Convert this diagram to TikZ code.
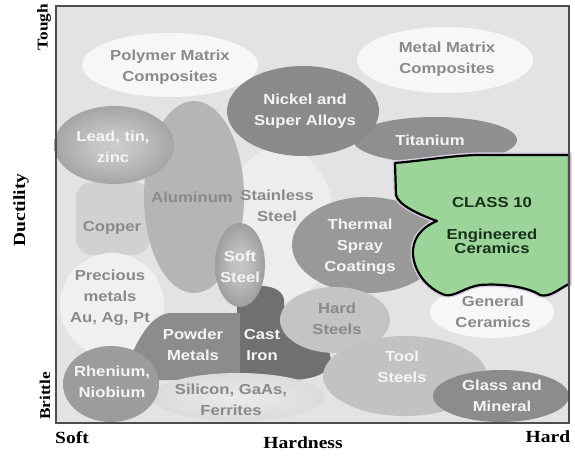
\documentclass[tikz,border=0pt]{standalone}
\usepackage{fontspec}
\setmainfont{Liberation Serif}
\newfontfamily\blobfont{Liberation Sans}[FakeStretch=1.15]
\newfontfamily\axisfont{Liberation Serif}[FakeStretch=1.15]
\definecolor{panelgray}{HTML}{E3E3E3}
\definecolor{framegray}{HTML}{4D4D4D}
\definecolor{txtgray}{HTML}{8A8A8A}
\definecolor{txtwhite}{HTML}{F4F4F4}
\definecolor{ceramicgreen}{HTML}{9CD49A}
\definecolor{ceramictext}{HTML}{17301A}
\definecolor{ceramichalo}{HTML}{D8CCE0}
\pgfdeclareradialshading{leadshade}{\pgfpointorigin}{color(0bp)=(black!20);color(10bp)=(black!24);color(50bp)=(black!54)}
\pgfdeclareradialshading{softshade}{\pgfpointorigin}{color(0bp)=(black!22);color(10bp)=(black!26);color(50bp)=(black!58)}
\pgfdeclareradialshading{siliconshade}{\pgfpointorigin}{color(0bp)=(black!8);color(25bp)=(black!14);color(50bp)=(black!45)}

\begin{document}
\begin{tikzpicture}[x=1pt,y=-1pt,
  blob label/.style={font=\blobfont\bfseries\fontsize{14.5}{21}\selectfont,align=center,inner sep=0pt},
  gray label/.style={blob label,text=txtgray},
  white label/.style={blob label,text=txtwhite},
  axis label/.style={font=\axisfont\bfseries\fontsize{17}{20}\selectfont,inner sep=0pt}]
\useasboundingbox (0,0) rectangle (575,457);
\fill[panelgray] (56,6) rectangle (569,423);
% pale back regions
\fill[black!7] (280,225) ellipse [x radius=55, y radius=78];
\fill[black!18,rounded corners=16] (76,182) rectangle (150,255);
\fill[black!6] (112,305) ellipse [x radius=52, y radius=52];
\fill[black!29] (194,197) ellipse [x radius=50, y radius=96];
\fill[white!97!black] (170,65) ellipse [x radius=88, y radius=32];
\fill[white!97!black] (445,60) ellipse [x radius=88, y radius=33];
\shade[shading=leadshade] (114,145) ellipse [x radius=60, y radius=39];
\fill[black!44] (435,140) ellipse [x radius=82, y radius=23];
\fill[black!46] (303,111) ellipse [x radius=76, y radius=45];
\fill[black!40] (367,245) ellipse [x radius=75, y radius=48];
% cast iron and powder metals
\fill[black!56] (237,378) -- (237,298) .. controls (237,283) and (282,280) .. (284,300)
  -- (285,322) .. controls (310,328) and (335,345) .. (330,365)
  .. controls (325,378) and (300,380) .. (290,380) -- cycle;
\fill[black!45] (128,362) .. controls (138,340) and (150,315) .. (170,313)
  -- (240,313) -- (240,380) -- (135,380) -- cycle;
\fill[black!23] (335,320) ellipse [x radius=55, y radius=33];
\fill[black!24] (405,376) ellipse [x radius=82, y radius=40];
\fill[black!45] (501,396) ellipse [x radius=68, y radius=26];
\fill[white!97!black] (492,312) ellipse [x radius=62, y radius=26];
\shade[shading=siliconshade] (238,397) ellipse [x radius=86, y radius=24];
\fill[black!39] (111,384) ellipse [x radius=48, y radius=38];
\shade[shading=softshade] (240,265) ellipse [x radius=25, y radius=42];
% class 10 region
\def\ceramicpath{(395,163) .. controls (430,160) and (460,154) .. (490,155) -- (569,155)
  -- (569,284) .. controls (560,288) and (550,298) .. (540,295)
  .. controls (530,288) and (505,283) .. (480,285)
  .. controls (465,287) and (455,297) .. (445,295)
  .. controls (430,290) and (415,275) .. (413,255)
  .. controls (412,240) and (420,228) .. (437,221)
  .. controls (420,215) and (398,205) .. (396,195) -- cycle}
\draw[ceramichalo,line width=5pt] \ceramicpath;
\draw[fill=ceramicgreen,line width=2.2pt,line join=round] \ceramicpath;
\draw[framegray,line width=2pt] (56,6) rectangle (569,423);

\node[gray label] (polymer) at (170,67) {Polymer Matrix\\Composites};
\node[gray label] (metalmx) at (447,59) {Metal Matrix\\Composites};
\node[white label] (nickel) at (305,111) {Nickel and\\Super Alloys};
\node[white label] (titanium) at (430,140) {Titanium};
\node[white label] (lead) at (113,147) {Lead, tin,\\zinc};
\node[gray label] (aluminum) at (192,197) {Aluminum};
\node[gray label] (stainless) at (277,206) {Stainless\\Steel};
\node[gray label] (copper) at (112,228) {Copper};
\node[gray label] (precious) at (110,298) {Precious\\metals\\Au, Ag, Pt};
\node[white label] (softsteel) at (240,267) {Soft\\Steel};
\node[white label] (thermal) at (360,247) {Thermal\\Spray\\Coatings};
\node[blob label,text=ceramictext] (class10) at (492,203) {CLASS 10};
\node[blob label,text=ceramictext,font=\blobfont\bfseries\fontsize{14.5}{14}\selectfont] (engceramics) at (492,241) {Engineered\\Ceramics};
\node[gray label] (hardsteels) at (337,319) {Hard\\Steels};
\node[gray label] (general) at (493,312) {General\\Ceramics};
\node[white label] (powder) at (193,345) {Powder\\Metals};
\node[white label] (castiron) at (262,345) {Cast\\Iron};
\node[white label] (toolsteels) at (402,367) {Tool\\Steels};
\node[white label] (rhenium) at (112,382) {Rhenium,\\Niobium};
\node[white label] (glass) at (502,396) {Glass and\\Mineral};
\node[gray label] (silicon) at (231,400) {Silicon, GaAs,\\Ferrites};

\node[axis label,font=\axisfont\bfseries\fontsize{15}{18}\selectfont,rotate=90] (tough) at (44,27) {Tough};
\node[axis label,rotate=90] (ductility) at (21,210) {Ductility};
\node[axis label,font=\axisfont\bfseries\fontsize{15}{18}\selectfont,rotate=90] (brittle) at (45,396) {Brittle};
\node[axis label] (soft) at (72,438) {Soft};
\node[axis label] (hardness) at (303,443) {Hardness};
\node[axis label] (hard) at (548,437) {Hard};
\end{tikzpicture}
\end{document}
